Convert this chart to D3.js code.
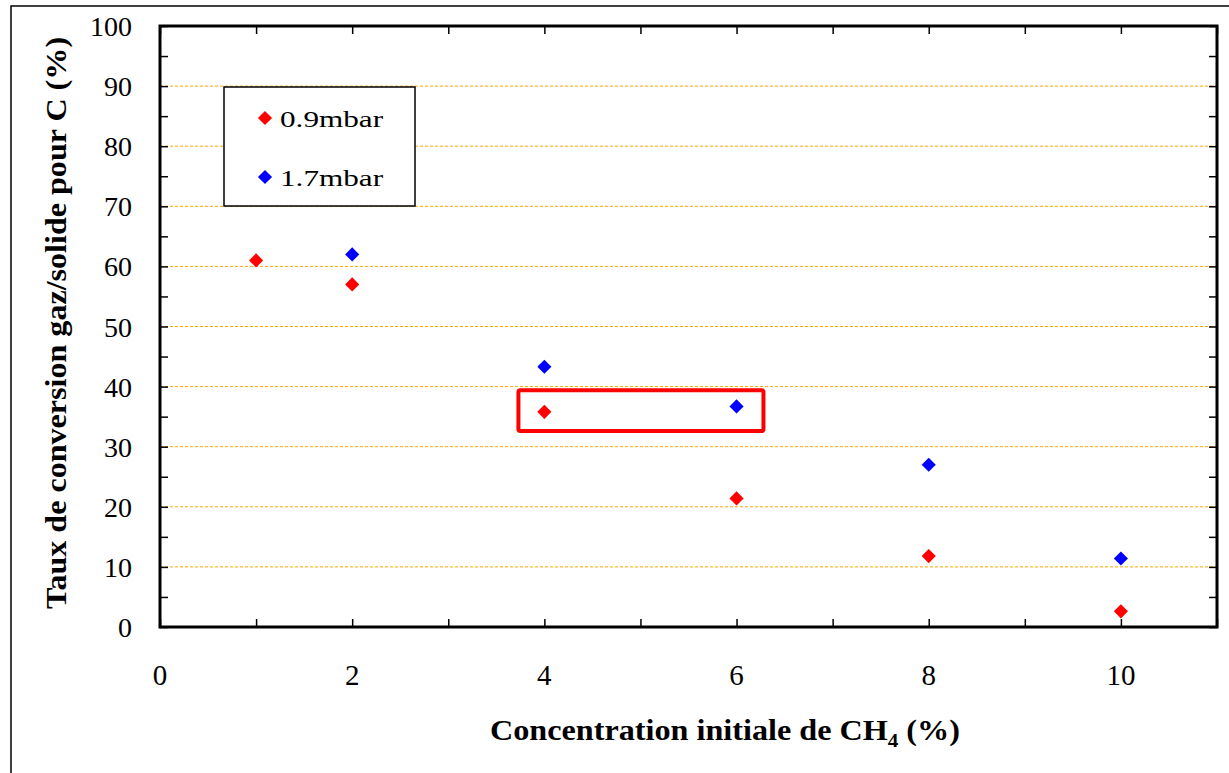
<!DOCTYPE html>
<html>
<head>
<meta charset="utf-8">
<script src="https://cdn.jsdelivr.net/npm/d3@7"></script>
<style>
  body { margin: 0; background: #fff; }
  svg text { font-family: "Liberation Serif", "Times New Roman", serif; }
</style>
</head>
<body>
<div id="chart"></div>
<script>
// data
var xLow = [1, 2, 4, 6, 8, 10];
var yLow = [61, 57, 35.8, 21.4, 11.8, 2.6];     // 0.9mbar
var xHigh = [2, 4, 6, 8, 10];
var yHigh = [62, 43.3, 36.7, 27, 11.4];         // 1.7mbar
var seriesNames = ["0.9mbar", "1.7mbar"];
var seriesColors = ["#ff0000", "#0000ff"];
var xTickLabels = [0, 2, 4, 6, 8, 10];
var yTickLabels = [0, 10, 20, 30, 40, 50, 60, 70, 80, 90, 100];
// highlighted zone (x from / to, y from / to)
var boxX = [3.73, 6.28];
var boxY = [32.6, 39.4];

var W = 1229, H = 773;
var margin = {left: 160, top: 26, right: 12, bottom: 146};

var svg = d3.select("#chart").append("svg")
    .attr("width", W).attr("height", H)
    .attr("font-family", "Liberation Serif, serif");

// outer frame (only left and top visible in the picture)
svg.append("rect")
    .attr("x", 11).attr("y", 6)
    .attr("width", W + 20).attr("height", H + 20)
    .attr("fill", "none").attr("stroke", "#000").attr("stroke-width", 1.5);

var x = d3.scaleLinear().domain([0, 11]).range([margin.left, W - margin.right]);
var y = d3.scaleLinear().domain([0, 100]).range([H - margin.bottom, margin.top]);

// gridlines
svg.append("g").selectAll("line")
    .data(yTickLabels.filter(function(d){ return d > 0 && d < 100; }))
    .enter().append("line")
    .attr("x1", x(0)).attr("x2", x(11))
    .attr("y1", function(d){ return y(d); })
    .attr("y2", function(d){ return y(d); })
    .attr("stroke", "#ffa500").attr("stroke-width", 1)
    .attr("stroke-dasharray", "3,2");

// axes with inward ticks
var yMinor = d3.range(0, 101, 5);
var xMinor = d3.range(0, 12, 1);

svg.append("g")
    .attr("transform", "translate(" + x(0) + ",0)")
    .call(d3.axisRight(y).tickValues(yMinor).tickSize(8).tickFormat(""))
    .call(function(g){ g.select(".domain").remove(); });
svg.append("g")
    .attr("transform", "translate(" + x(11) + ",0)")
    .call(d3.axisLeft(y).tickValues(yMinor).tickSize(8).tickFormat(""))
    .call(function(g){ g.select(".domain").remove(); });
svg.append("g")
    .attr("transform", "translate(0," + y(0) + ")")
    .call(d3.axisTop(x).tickValues(xMinor).tickSize(8).tickFormat(""))
    .call(function(g){ g.select(".domain").remove(); });
svg.append("g")
    .attr("transform", "translate(0," + y(100) + ")")
    .call(d3.axisBottom(x).tickValues(xMinor).tickSize(8).tickFormat(""))
    .call(function(g){ g.select(".domain").remove(); });
svg.selectAll(".tick line").attr("stroke", "#000").attr("stroke-width", 1.5);

// plot frame
svg.append("rect")
    .attr("x", x(0)).attr("y", y(100))
    .attr("width", x(11) - x(0)).attr("height", y(0) - y(100))
    .attr("fill", "none").attr("stroke", "#000").attr("stroke-width", 3);

// tick labels
svg.append("g").selectAll("text")
    .data(yTickLabels).enter().append("text")
    .attr("x", 132).attr("y", function(d){ return y(d) + 10; })
    .attr("text-anchor", "end")
    .style("font-size", "28px")
    .text(function(d){ return d; });

svg.append("g").selectAll("text")
    .data(xTickLabels).enter().append("text")
    .attr("x", function(d){ return x(d); }).attr("y", 685)
    .attr("text-anchor", "middle")
    .style("font-size", "29px")
    .text(function(d){ return d; });

// axis titles
var xt = svg.append("text")
    .attr("transform", "translate(725,740) scale(1.11,1)")
    .attr("text-anchor", "middle")
    .style("font-size", "29px").style("font-weight", "bold");
xt.append("tspan").text("Concentration initiale de CH");
xt.append("tspan").attr("dy", 7).style("font-size", "19px").text("4");
xt.append("tspan").attr("dy", -7).text(" (%)");

svg.append("text")
    .attr("transform", "translate(66,323) rotate(-90) scale(1.07,1)")
    .attr("text-anchor", "middle")
    .style("font-size", "30px").style("font-weight", "bold")
    .text("Taux de conversion gaz/solide pour C (%)");

// highlight box
svg.append("rect")
    .attr("x", x(boxX[0])).attr("y", y(boxY[1]))
    .attr("width", x(boxX[1]) - x(boxX[0]))
    .attr("height", y(boxY[0]) - y(boxY[1]))
    .attr("rx", 2)
    .attr("fill", "none").attr("stroke", "#ff0000").attr("stroke-width", 4);

// markers
var diamond = d3.symbol().type(d3.symbolSquare).size(100);
function drawSeries(xs, ys, color) {
    svg.append("g").selectAll("path")
        .data(xs.map(function(d, i){ return [d, ys[i]]; }))
        .enter().append("path")
        .attr("d", diamond)
        .attr("fill", color)
        .attr("transform", function(d){
            return "translate(" + x(d[0]) + "," + y(d[1]) + ") rotate(45)";
        });
}
drawSeries(xLow, yLow, seriesColors[0]);
drawSeries(xHigh, yHigh, seriesColors[1]);

// legend
var leg = svg.append("g");
leg.append("rect")
    .attr("x", 224).attr("y", 87).attr("width", 191).attr("height", 119)
    .attr("fill", "#fff").attr("stroke", "#000").attr("stroke-width", 1.5);
seriesNames.forEach(function(name, i){
    var cy = 118 + i * 59;
    leg.append("path")
        .attr("d", diamond)
        .attr("fill", seriesColors[i])
        .attr("transform", "translate(265," + cy + ") rotate(45)");
    leg.append("text")
        .attr("transform", "translate(280," + (cy + 9) + ") scale(1.3,1)")
        .style("font-size", "24px")
        .text(name);
});
</script>
</body>
</html>
